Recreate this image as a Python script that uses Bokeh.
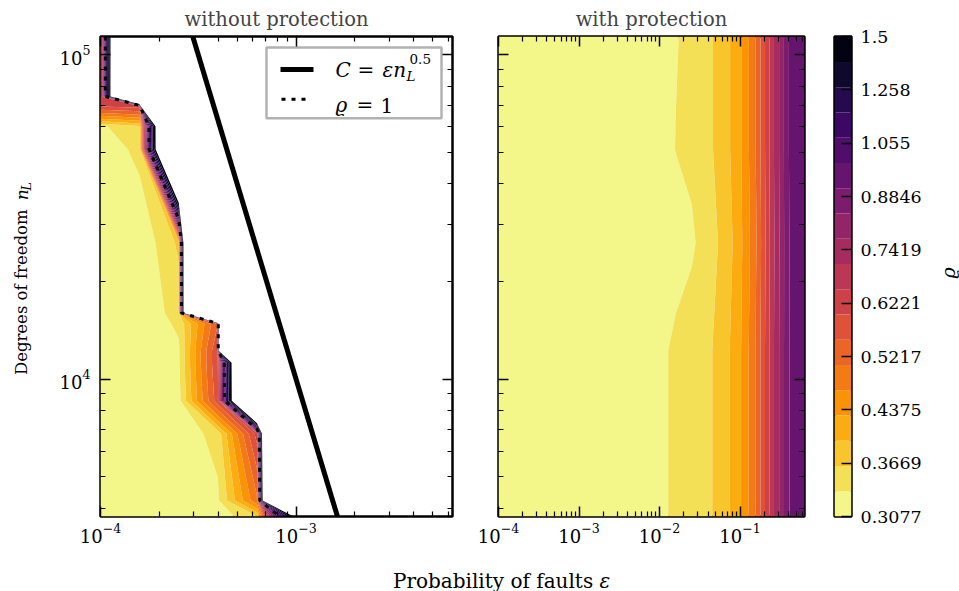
import math
import numpy as np
from bokeh.plotting import figure
from bokeh.layouts import row, column
from bokeh.models import (Range1d, FixedTicker, LogAxis, LogTickFormatter, CustomJSTickFormatter,
                          Label, BoxAnnotation, PrintfTickFormatter)
from bokeh.palettes import Inferno256
from bokeh.embed import file_html
from bokeh.resources import INLINE

# ---------------- data ----------------
levels = [0.3077, 0.3344, 0.3635, 0.3951, 0.4294, 0.4668, 0.5073, 0.5514, 0.5993, 0.6514,
          0.7080, 0.7696, 0.8365, 0.9092, 0.9882, 1.0741, 1.1674, 1.2689, 1.3792, 1.5]
cb_ticks = [0.3077, 0.3669, 0.4375, 0.5217, 0.6221, 0.7419, 0.8846, 1.055, 1.258, 1.5]
cb_tick_labels = ["0.3077", "0.3669", "0.4375", "0.5217", "0.6221", "0.7419", "0.8846",
                  "1.055", "1.258", "1.5"]

C_const = 0.1          # C = eps * nL^0.5
rho_line = 1.0         # rho = 1 contour

# without protection
eps_left = [1.0e-4, 1.585e-4, 2.512e-4, 3.981e-4, 6.310e-4,
            1.0e-3, 1.585e-3, 2.512e-3, 3.981e-3, 6.310e-3]
nL_left = [3771, 4222, 6786, 8576, 11224, 12225, 14800, 15996, 26270,
           51120, 60170, 69330, 74410, 113850]
rho_left = [
    [0.308, 0.308, 0.310, 0.320, 0.360, 1.60, 5.0, 5.0, 5.0, 5.0],
    [0.308, 0.309, 0.310, 0.330, 0.500, 9.0, 9.0, 9.0, 9.0, 9.0],
    [0.309, 0.310, 0.320, 0.345, 0.620, 9.0, 9.0, 9.0, 9.0, 9.0],
    [0.309, 0.311, 0.325, 0.580, 3.60, 5.0, 5.0, 5.0, 5.0, 5.0],
    [0.310, 0.312, 0.330, 0.600, 3.60, 5.0, 5.0, 5.0, 5.0, 5.0],
    [0.310, 0.312, 0.330, 0.600, 50.0, 50.0, 50.0, 50.0, 50.0, 50.0],
    [0.310, 0.315, 0.340, 0.550, 50.0, 50.0, 50.0, 50.0, 50.0, 50.0],
    [0.310, 0.312, 0.350, 12.0, 12.0, 12.0, 12.0, 12.0, 12.0, 12.0],
    [0.310, 0.315, 0.370, 12.0, 12.0, 12.0, 12.0, 12.0, 12.0, 12.0],
    [0.315, 0.345, 3.60, 5.0, 5.0, 5.0, 5.0, 5.0, 5.0, 5.0],
    [0.330, 0.360, 3.60, 5.0, 5.0, 5.0, 5.0, 5.0, 5.0, 5.0],
    [0.600, 0.620, 40.0, 40.0, 40.0, 40.0, 40.0, 40.0, 40.0, 40.0],
    [0.560, 5.0, 5.0, 5.0, 5.0, 5.0, 5.0, 5.0, 5.0, 5.0],
    [0.550, 5.0, 5.0, 5.0, 5.0, 5.0, 5.0, 5.0, 5.0, 5.0],
]

# with protection
eps_right = [1.0e-4, 1.585e-4, 2.512e-4, 3.981e-4, 6.310e-4, 1.0e-3, 1.585e-3, 2.512e-3,
             3.981e-3, 6.310e-3, 1.0e-2, 1.585e-2, 2.512e-2, 3.981e-2, 6.310e-2,
             0.1, 0.1585, 0.2512, 0.3981, 0.6310]
nL_right = [3771, 12225, 26270, 51120, 113850]
rho_right = [
    [0.308, 0.308, 0.308, 0.308, 0.309, 0.309, 0.310, 0.311, 0.314, 0.320,
     0.332, 0.337, 0.345, 0.358, 0.382, 0.425, 0.512, 0.690, 0.905, 0.985],
    [0.308, 0.308, 0.308, 0.309, 0.309, 0.310, 0.310, 0.312, 0.315, 0.321,
     0.332, 0.337, 0.345, 0.358, 0.382, 0.425, 0.512, 0.690, 0.905, 0.985],
    [0.308, 0.308, 0.308, 0.309, 0.309, 0.310, 0.311, 0.312, 0.315, 0.320,
     0.325, 0.327, 0.330, 0.352, 0.372, 0.420, 0.505, 0.685, 0.905, 0.990],
    [0.308, 0.308, 0.308, 0.309, 0.309, 0.310, 0.311, 0.312, 0.315, 0.320,
     0.327, 0.3348, 0.343, 0.357, 0.381, 0.424, 0.511, 0.690, 0.907, 0.990],
    [0.308, 0.308, 0.308, 0.309, 0.309, 0.310, 0.311, 0.312, 0.315, 0.320,
     0.327, 0.333, 0.342, 0.357, 0.381, 0.424, 0.511, 0.690, 0.907, 0.990],
]

x_major = [1e-4, 1e-3, 1e-2, 1e-1]
x_minor = [m * d for d in (1e-4, 1e-3, 1e-2, 1e-1) for m in range(2, 10)]
y_major = [1e4, 1e5]
y_minor = [m * d for d in (1e3, 1e4, 1e5) for m in range(2, 10)]

# ---------------- style ----------------
SERIF = "DejaVu Serif"
nb = len(levels) - 1
band_colors = [Inferno256[int(round(255 * (1 - (k + 0.5) / nb)))] for k in range(nb)]

FRAME_T, FRAME_B = 35, 32
H_TOP = 548


def style_axis(ax, labels=True, size="18px"):
    ax.major_tick_in = 10
    ax.major_tick_out = 0
    ax.minor_tick_in = 5
    ax.minor_tick_out = 0
    ax.major_tick_line_width = 1.5
    ax.minor_tick_line_width = 1.2
    ax.major_tick_line_color = "black"
    ax.minor_tick_line_color = "black"
    ax.axis_line_color = None
    if labels:
        ax.major_label_text_font = SERIF
        ax.major_label_text_font_size = size
        ax.major_label_text_color = "black"
    else:
        ax.formatter = CustomJSTickFormatter(code="return ''")
        ax.major_label_standoff = 0


def strip(width, height):
    s = figure(width=width, height=height, x_range=Range1d(0, width), y_range=Range1d(0, height),
               x_axis_type=None, y_axis_type=None, toolbar_location=None, output_backend="svg",
               min_border=0)
    s.grid.visible = False
    s.outline_line_color = None
    return s


def lab(p, x, y, text, size="19px", style="normal", align="left", angle=0.0, baseline="alphabetic"):
    p.add_layout(Label(x=x, y=y, text=text, text_font=SERIF, text_font_size=size,
                       text_font_style=style, text_align=align, text_baseline=baseline,
                       angle=angle, text_color="black"))


def make_panel(title, x_end, width, mb_left, mb_right, ylabels):
    p = figure(width=width, height=H_TOP, x_axis_type="log", y_axis_type="log",
               x_range=Range1d(1e-4, x_end), y_range=Range1d(nL_left[0], nL_left[-1]),
               toolbar_location=None, output_backend="svg",
               min_border_left=mb_left, min_border_right=mb_right,
               min_border_top=FRAME_T, min_border_bottom=FRAME_B)
    p.grid.visible = False
    p.outline_line_color = "black"
    p.outline_line_width = 2.5
    p.background_fill_color = "white"
    p.border_fill_color = "white"
    p.title.text = title
    p.title.align = "center"
    p.title.text_font = SERIF
    p.title.text_font_size = "19.5px"
    p.title.text_font_style = "normal"
    p.title.standoff = 11
    xt = FixedTicker(ticks=x_major, minor_ticks=x_minor)
    yt = FixedTicker(ticks=y_major, minor_ticks=y_minor)
    p.xaxis[0].ticker = xt
    p.xaxis[0].formatter = LogTickFormatter()
    style_axis(p.xaxis[0])
    p.xaxis[0].major_label_standoff = 6
    p.yaxis[0].ticker = yt
    if ylabels:
        p.yaxis[0].formatter = LogTickFormatter()
        style_axis(p.yaxis[0])
        p.yaxis[0].major_label_standoff = 10
    else:
        style_axis(p.yaxis[0], labels=False)
    top = LogAxis(ticker=xt)
    style_axis(top, labels=False)
    p.add_layout(top, "above")
    right = LogAxis(ticker=yt)
    style_axis(right, labels=False)
    p.add_layout(right, "right")
    return p


# ---------------- y label strip ----------------
W0 = 40
p0 = strip(W0, H_TOP)
lab(p0, 21, H_TOP - 292, "Degrees of freedom", size="16.5px", align="center", angle=math.pi / 2)
lab(p0, 21, H_TOP - 187, "n", size="17px", style="italic", angle=math.pi / 2)
lab(p0, 26, H_TOP - 176, "L", size="13px", style="italic", angle=math.pi / 2)

# ---------------- left panel ----------------
p1 = make_panel("without protection", eps_left[-1], 475 - W0, 100 - W0, 23, True)
XL, YL = np.meshgrid(np.array(eps_left), np.array(nL_left, dtype=float))
p1.contour(XL, YL, np.array(rho_left), levels=levels, fill_color=band_colors, line_color=None)
p1.contour(XL, YL, np.array(rho_left), levels=[rho_line], line_color="black",
           line_width=3, line_dash="4 6")

nL_ends = [nL_left[0], nL_left[-1]]
p1.line([C_const / math.sqrt(n) for n in nL_ends], nL_ends, line_color="black", line_width=5)

# pixel -> data helpers for placing the legend inside the left frame
lx0, lx1 = math.log10(1e-4), math.log10(eps_left[-1])
ly0, ly1 = math.log10(nL_left[0]), math.log10(nL_left[-1])


def lx(X):
    return 10 ** (lx0 + (X - 100) / 352.0 * (lx1 - lx0))


def ly(Y):
    return 10 ** (ly1 - (Y - 35) / 481.0 * (ly1 - ly0))


p1.add_layout(BoxAnnotation(left=lx(266), right=lx(441), top=ly(46), bottom=ly(117),
                            fill_color="white", fill_alpha=1.0, line_color="black",
                            line_width=2.5))
p1.line([lx(280), lx(313)], [ly(68), ly(68)], line_color="black", line_width=5, level="overlay")
p1.line([lx(281), lx(306)], [ly(98), ly(98)], line_color="black", line_width=3,
        line_dash="4 6", level="overlay")

lab(p1, lx(335), ly(69), "C", size="20px", style="italic")
lab(p1, lx(357), ly(69), "=", size="20px")
lab(p1, lx(382), ly(69), "εn", size="20px", style="italic")
lab(p1, lx(406), ly(75), "L", size="13.5px", style="italic")
lab(p1, lx(409), ly(58), "0.5", size="13.5px")
lab(p1, lx(335), ly(104), "ϱ", size="20px", style="italic")
lab(p1, lx(356), ly(104), "=", size="20px")
lab(p1, lx(380), ly(104), "1", size="20px")

# ---------------- right panel ----------------
p2 = make_panel("with protection", eps_right[-1], 345, 23, 16, False)
XR, YR = np.meshgrid(np.array(eps_right), np.array(nL_right, dtype=float))
p2.contour(XR, YR, np.array(rho_right), levels=levels, fill_color=band_colors, line_color=None)

# ---------------- colorbar ----------------
W5 = 26
p3 = figure(width=139 - W5, height=H_TOP, x_range=Range1d(0, 1),
            y_range=Range1d(levels[0], levels[-1]),
            y_axis_type="log", x_axis_type=None, y_axis_location="right",
            toolbar_location=None, output_backend="svg",
            min_border_left=14, min_border_right=139 - W5 - 14 - 17, min_border_top=FRAME_T,
            min_border_bottom=FRAME_B)
p3.grid.visible = False
p3.outline_line_color = "black"
p3.outline_line_width = 2.5
p3.quad(left=0, right=1, bottom=levels[:-1], top=levels[1:], fill_color=band_colors,
        line_color=None)
cax = p3.yaxis[0]
cax.ticker = FixedTicker(ticks=cb_ticks, minor_ticks=[])
cax.formatter = PrintfTickFormatter(format="%.4g")
cax.major_label_overrides = {t: s for t, s in zip(cb_ticks, cb_tick_labels)}
style_axis(cax, size="17.5px")
cax.major_label_standoff = 9
cax.minor_tick_in = 0

p5 = strip(W5, H_TOP)
lab(p5, 947 - (959 - W5), H_TOP - 270, "ϱ", style="italic", align="center", baseline="middle",
    angle=math.pi / 2)

# ---------------- x label strip ----------------
p4 = strip(959, 591 - H_TOP)
lab(p4, 599, 591 - 580, "Probability of faults ", size="20px", align="right")
lab(p4, 599, 591 - 580, "ε", size="20px", style="italic", align="left")

layout = column(row(p0, p1, p2, p3, p5), p4)
open("out.html", "w").write(file_html(layout, INLINE))
